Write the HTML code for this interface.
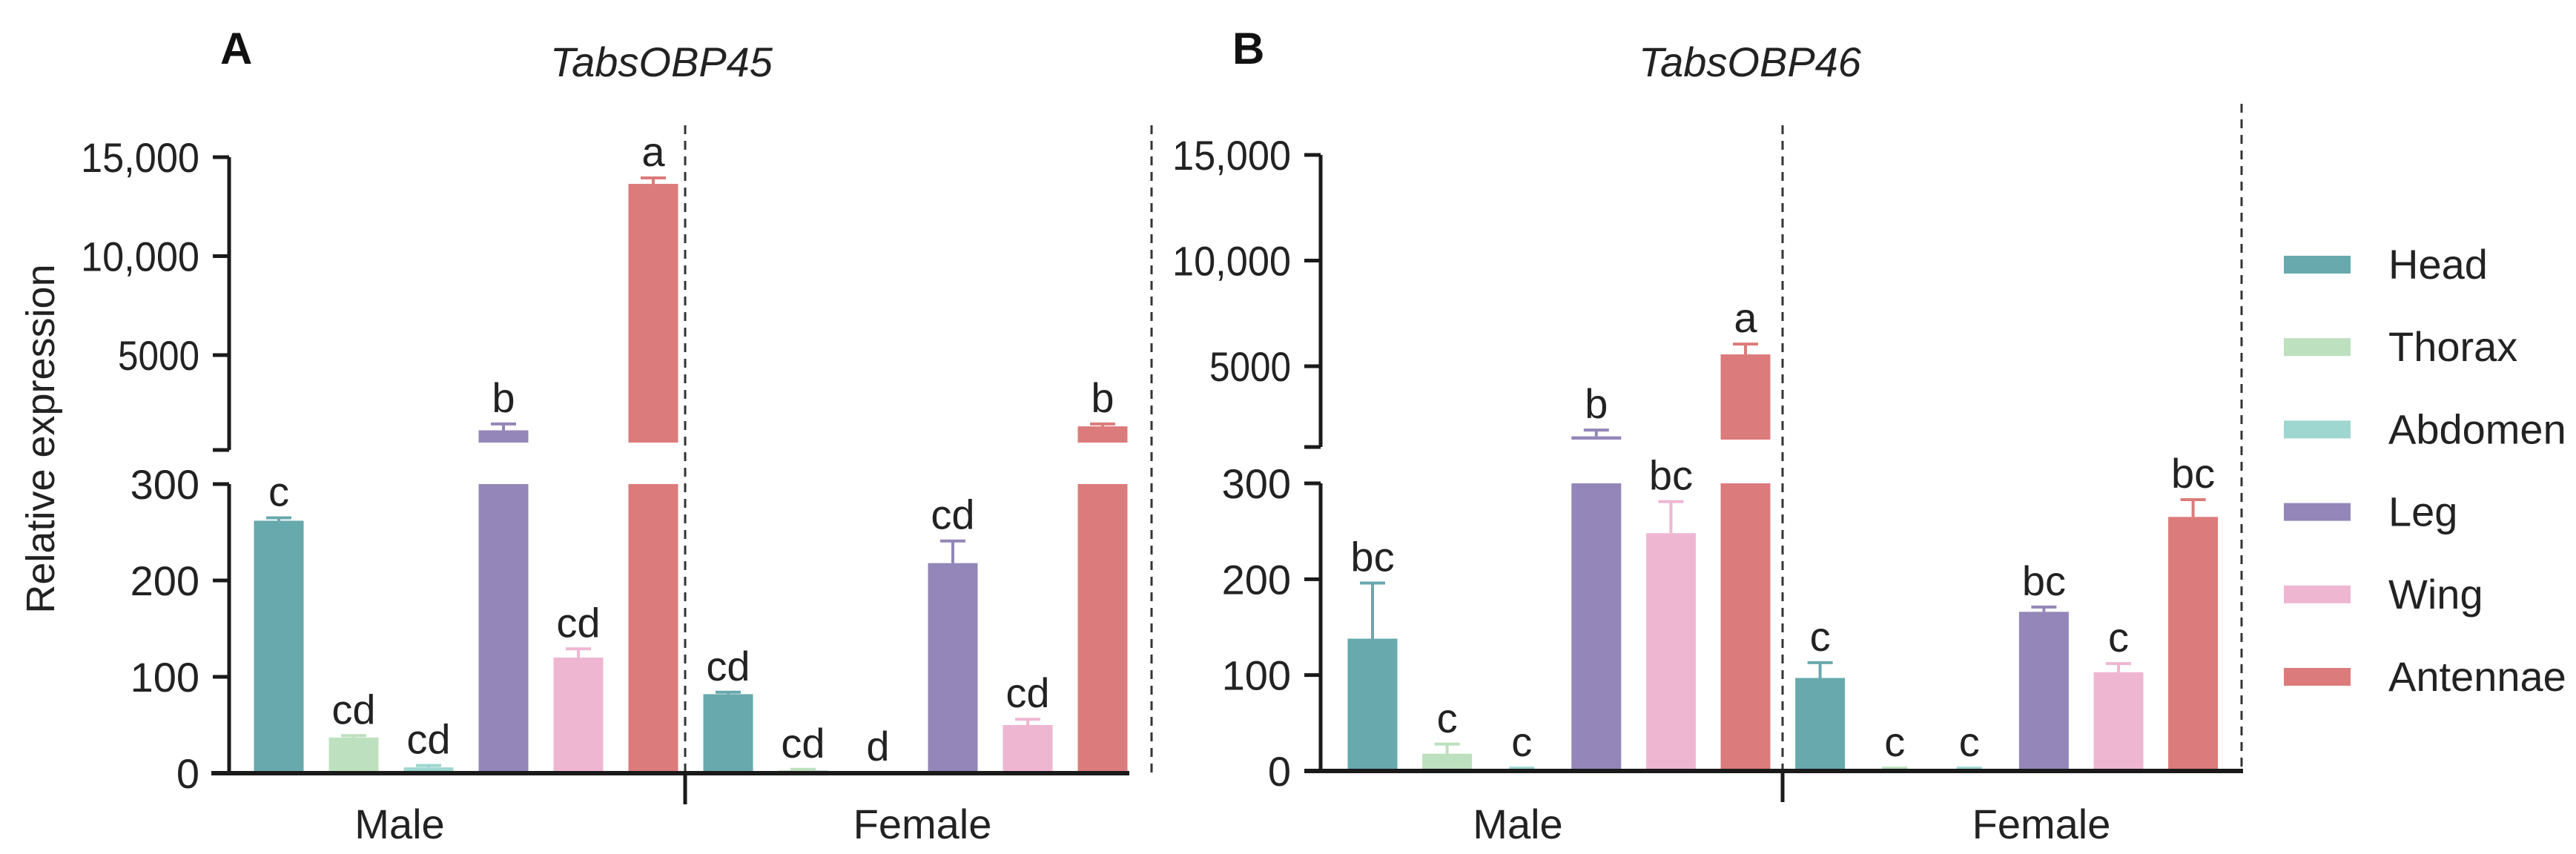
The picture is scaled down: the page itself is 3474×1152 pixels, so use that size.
<!DOCTYPE html>
<html><head><meta charset="utf-8"><style>
html,body{margin:0;padding:0;background:#fff;}
svg{display:block;font-family:"Liberation Sans",Arial,sans-serif;}
</style></head><body>
<svg id="chart" width="3474" height="1152" viewBox="0 0 3474 1152" xmlns="http://www.w3.org/2000/svg"></svg>
<script>
const tissues = ["Head","Thorax","Abdomen","Leg","Wing","Antennae"];
const colors = ["#67a9ad","#bde0bf","#9ed6d0","#9486b8","#efb6d2","#dc7b7b"];
const sexes = ["Male","Female"];
const upperTicks = [5000,10000,15000];
const upperTickLabels = ["5000","10,000","15,000"];
const lowerTicks = [0,100,200,300];
const lowerTickLabels = ["0","100","200","300"];
// Panel A: TabsOBP45 (male then female)
const aMeans = [262,37,6,1200,120,13650, 82,3,0.5,218,50,1400];
const aErr   = [3,2,2,320,9,300, 2,1,0.3,23,6,120];
const aLetters = ["c","cd","cd","b","cd","a","cd","cd","d","cd","cd","b"];
// Panel B: TabsOBP46
const bMeans = [138,18,2,1680,248,5560, 97,2,2,166,103,265];
const bErr   = [58,10,1,300,33,490, 16,1,1,5,9,18];
const bLetters = ["bc","c","c","b","bc","a","c","c","c","bc","c","bc"];

const svg = document.getElementById('chart');
const NS = "http://www.w3.org/2000/svg";
function mk(tag, attrs, parent){ const e=document.createElementNS(NS,tag); for(const k in attrs) e.setAttribute(k,attrs[k]); (parent||svg).appendChild(e); return e; }
function txt(s, attrs, parent){ const e=mk('text',attrs,parent); e.textContent=s; return e; }

function panel(cfg){
  const g = mk('g',{});
  
  
  const ax = cfg.axisX;
  const yLow = v => cfg.y0 - (Math.min(v,300))*(cfg.y0-cfg.y300)/300;
  const ySlope = (cfg.u5000-cfg.u15000)/10000;
  const yUp = v => cfg.u5000 - (v-5000)*ySlope;
  const step = cfg.step, bw = 67;
  const xc = i => cfg.firstX + i*step;
  let l = mk('line',{x1:ax,y1:cfg.u15000,x2:ax,y2:cfg.uBottom,stroke:'#1a1a1a','stroke-width':5},g);
   
  l = mk('line',{x1:ax,y1:cfg.y300,x2:ax,y2:cfg.y0,stroke:'#1a1a1a','stroke-width':5},g);
   
  mk('line',{x1:ax-22,y1:cfg.uBottom,x2:ax,y2:cfg.uBottom,stroke:'#1a1a1a','stroke-width':5},g);
  upperTicks.forEach((t,i)=>{
    const y=yUp(t);
    mk('line',{x1:ax-22,y1:y,x2:ax,y2:y,stroke:'#1a1a1a','stroke-width':5},g);
    const e=txt(upperTickLabels[i],{x:ax-40,y:y+20,'font-size':56,'text-anchor':'end',fill:'#222',textLength:upperTickLabels[i].length>4?160:110,lengthAdjust:'spacingAndGlyphs'},g);
     
  });
  lowerTicks.forEach((t,i)=>{
    const y=yLow(t);
    mk('line',{x1:ax-22,y1:y,x2:ax,y2:y,stroke:'#1a1a1a','stroke-width':5},g);
    const e=txt(lowerTickLabels[i],{x:ax-40,y:y+20,'font-size':56,'text-anchor':'end',fill:'#222'},g);
     
  });
  cfg.dashes.forEach(d=>{
    const e=mk('line',{x1:d[0],y1:d[1],x2:d[0],y2:cfg.y0,stroke:'#333','stroke-width':3,'stroke-dasharray':'12,9'},g);
     
  });
  cfg.means.forEach((v,i)=>{
    const x=xc(i), c=colors[i%6];
    const top = yLow(v);
    const b=mk('rect',{x:x-bw/2,y:top,width:bw,height:cfg.y0-top,fill:c},g);
    
    
    let errTop;
    if(v>300){
      const ut=yUp(v);
      const b2=mk('rect',{x:x-bw/2,y:ut,width:bw,height:cfg.uBottom-10-ut,fill:c},g);
      
      
      errTop=yUp(v+cfg.err[i]);
      mk('line',{x1:x,y1:ut,x2:x,y2:errTop,stroke:c,'stroke-width':4},g);
    } else {
      errTop=yLow(v+cfg.err[i]);
      mk('line',{x1:x,y1:top,x2:x,y2:errTop,stroke:c,'stroke-width':4},g);
    }
    mk('line',{x1:x-17,y1:errTop,x2:x+17,y2:errTop,stroke:c,'stroke-width':4},g);
    const lt=txt(cfg.letters[i],{x:x,y:errTop-16,'font-size':56,'text-anchor':'middle',fill:'#222'},g);
     
  });
  l=mk('line',{x1:cfg.xStart,y1:cfg.y0,x2:cfg.xEnd,y2:cfg.y0,stroke:'#1a1a1a','stroke-width':6},g);
   
  mk('line',{x1:cfg.dashes[0][0],y1:cfg.y0,x2:cfg.dashes[0][0],y2:cfg.y0+42,stroke:'#1a1a1a','stroke-width':5},g);
  sexes.forEach((s,i)=>{
    const e=txt(s,{x:cfg.sexX[i],y:1131,'font-size':56,'text-anchor':'middle',fill:'#222'},g);
     
  });
  let e=txt(cfg.title,{x:cfg.titleX,y:103,'font-size':56,'font-style':'italic','text-anchor':'middle',fill:'#222'},g);
   
  e=txt(cfg.letter,{x:cfg.letterX,y:86,'font-size':60,'font-weight':'bold',fill:'#111'},g);
   
}

panel({name:'panel-a',title:'TabsOBP45',letter:'A',letterX:297,titleX:892,axisX:309,
  y0:1043,y300:653,u15000:212,u5000:479,uBottom:607,firstX:376,step:101,
  xStart:285,xEnd:1523,dashes:[[924,169],[1553,169]],sexX:[539,1244],
  means:aMeans,err:aErr,letters:aLetters});
panel({name:'panel-b',title:'TabsOBP46',letter:'B',letterX:1662,titleX:2360,axisX:1781,
  y0:1040,y300:652,u15000:209,u5000:494,uBottom:603,firstX:1851,step:100.6,
  xStart:1759,xEnd:3025,dashes:[[2404,169],[3023,140]],sexX:[2047,2753],
  means:bMeans,err:bErr,letters:bLetters});

const yt=txt('Relative expression',{x:0,y:0,'font-size':54,'text-anchor':'middle',fill:'#222',transform:'translate(73,592) rotate(-90)'});



const lg=mk('g',{});


tissues.forEach((t,i)=>{
  const cy=357+i*111.2;
  const r=mk('rect',{x:3080,y:cy-12,width:90,height:24,fill:colors[i]},lg);
  
  
  const e=txt(t,{x:3221,y:cy+19,'font-size':56,fill:'#222'},lg);
  
  
});
</script>
</body></html>
